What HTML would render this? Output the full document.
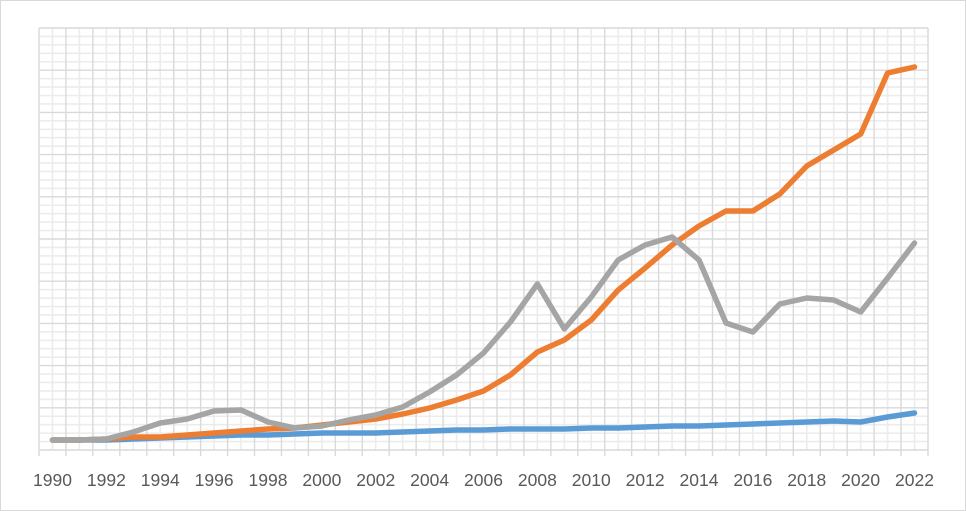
<!DOCTYPE html>
<html><head><meta charset="utf-8"><style>
html,body{margin:0;padding:0;background:#fff;}
svg{display:block;}
</style></head><body>
<svg id="s" width="966" height="511" xmlns="http://www.w3.org/2000/svg">
<rect x="0.5" y="0.5" width="965" height="510" fill="#fff" stroke="#d9d9d9"/>
<g id="g"></g>
</svg>
<script>
var ns="http://www.w3.org/2000/svg",g=document.getElementById('g');
function el(t,a,txt){var e=document.createElementNS(ns,t);for(var k in a)e.setAttribute(k,a[k]);if(txt)e.textContent=txt;g.appendChild(e);return e;}
var L=39,R=928,T=28,B=450,cw=(R-L)/33,mh=(B-T)/10;
for(var i=0;i<50;i++){if(i%5==0)continue;var y=T+i*mh/5;el('line',{x1:L,x2:R,y1:y,y2:y,stroke:'#ececec','stroke-width':1.6});}
for(var i=0;i<33;i++){var x=L+cw*(i+0.5);el('line',{x1:x,x2:x,y1:T,y2:B,stroke:'#ececec','stroke-width':1.6});}
for(var i=0;i<=10;i++){var y=T+i*mh;el('line',{x1:L,x2:R,y1:y,y2:y,stroke:'#d9d9d9','stroke-width':1.4});}
for(var i=0;i<=33;i++){var x=L+cw*i;el('line',{x1:x,x2:x,y1:T,y2:B+6,stroke:'#d9d9d9','stroke-width':1.4});}
for(var yr=1990;yr<=2022;yr+=2){var x=L+cw*(yr-1990+0.5);el('text',{x:x,y:486,'text-anchor':'middle','font-family':'Liberation Sans, sans-serif','font-size':17.5,fill:'#595959'},String(yr));}
var blue=[440,440,440,439,438,437,436,435,435,434,433,433,433,432,431,430,430,429,429,429,428,428,427,426,426,425,424,423,422,421,422,417,413];
var orange=[440,440,439,437,437,435,433,431,429,428,425,422,419,414,408,400,391,375,352,340,320,290,268,245,226,211,211,194,166,150,134,73,67];
var gray=[440,440,439,432,423,419,411,410,422,428,426,420,415,407,392,375,353,322,284,329,297,260,245,237,260,323,332,304,298,300,312,278,243];
function line(d,c){var p=d.map(function(v,i){return (L+cw*(i+0.5)).toFixed(1)+','+v;}).join(' ');el('polyline',{points:p,fill:'none',stroke:c,'stroke-width':5.5,'stroke-linejoin':'round','stroke-linecap':'round'});}
line(blue,'#5b9bd5');line(orange,'#ed7d31');line(gray,'#a5a5a5');
</script>
</body></html>
